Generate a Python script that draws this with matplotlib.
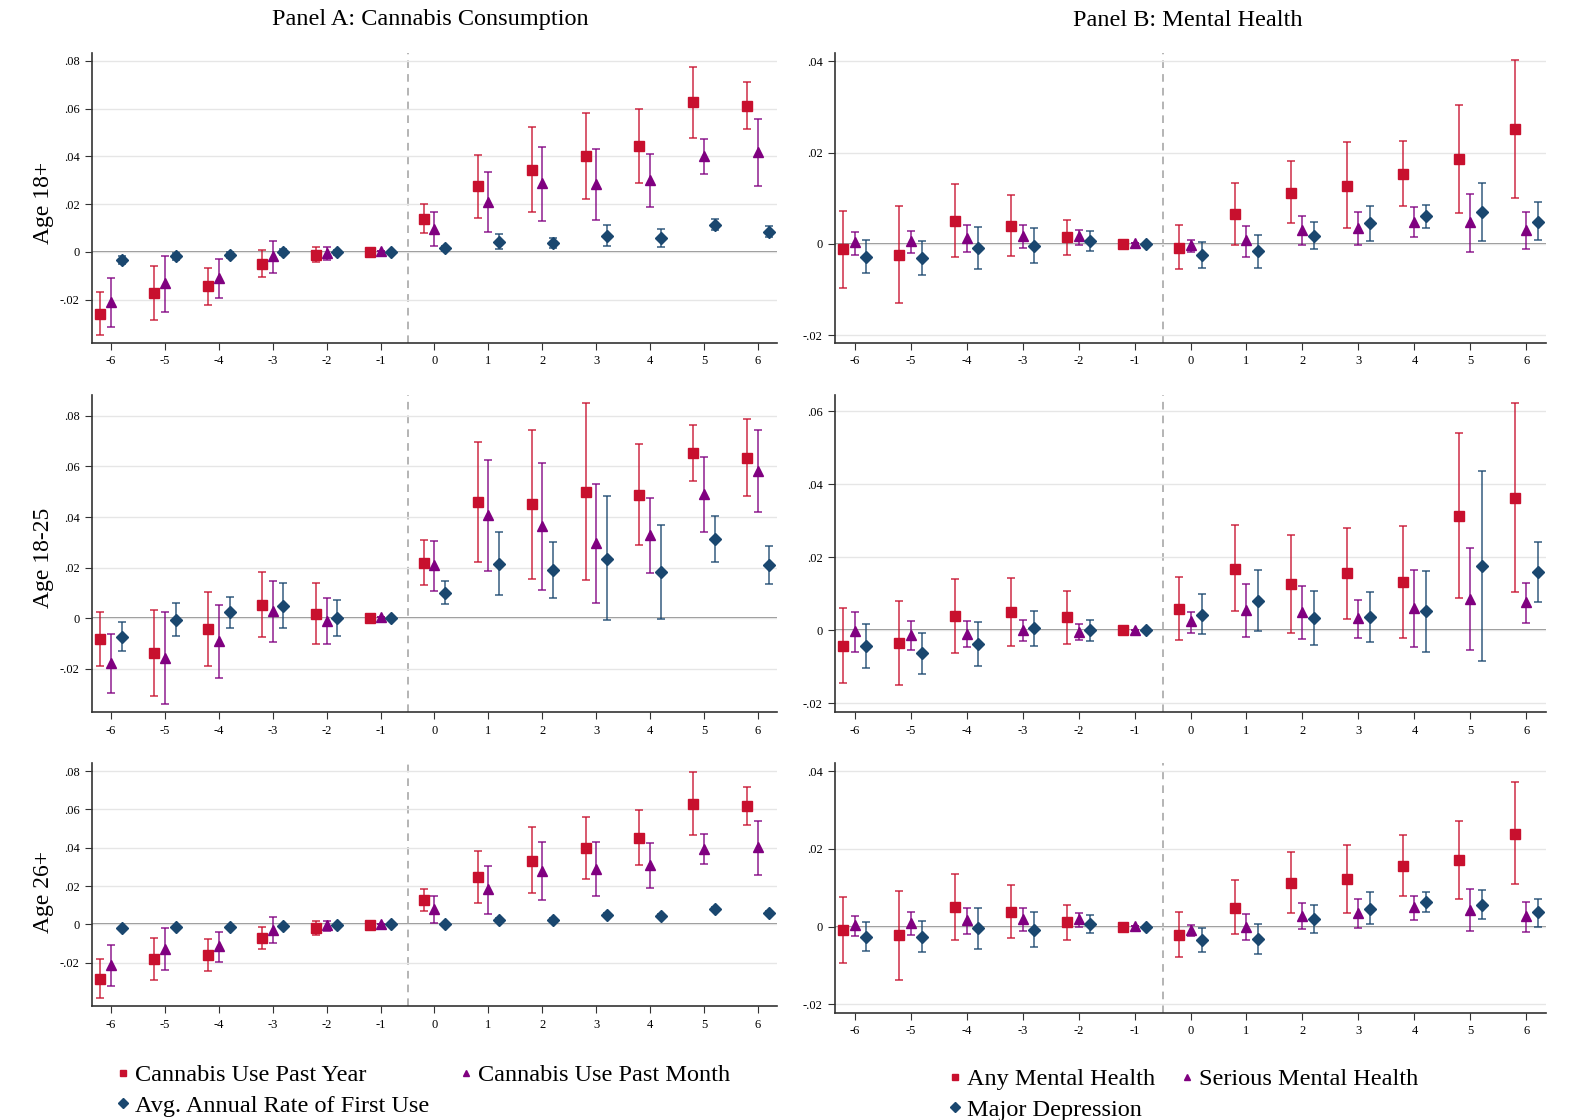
import matplotlib
matplotlib.use("Agg")
import matplotlib.pyplot as plt
from matplotlib.ticker import FuncFormatter
from matplotlib.lines import Line2D

plt.rcParams['font.family'] = ['Liberation Serif', 'DejaVu Serif']
plt.rcParams['axes.unicode_minus'] = False

events = [-6, -5, -4, -3, -2, -1, 0, 1, 2, 3, 4, 5, 6]

# Panel A, Age 18+
a18_year = [-0.0259, -0.0173, -0.0142, -0.0050, -0.0013, 0, 0.0138, 0.0276, 0.0344, 0.0401, 0.0443, 0.0627, 0.0611]
a18_year_lo = [-0.0349, -0.0284, -0.0222, -0.0106, -0.0043, 0, 0.0081, 0.0141, 0.0166, 0.0222, 0.0290, 0.0478, 0.0516]
a18_year_hi = [-0.0166, -0.0059, -0.0066, 0.0008, 0.0021, 0, 0.0199, 0.0408, 0.0523, 0.0583, 0.0597, 0.0776, 0.0710]
a18_month = [-0.0209, -0.0130, -0.0109, -0.0017, -0.0003, 0.0003, 0.0098, 0.0209, 0.0287, 0.0284, 0.0301, 0.0403, 0.0420]
a18_month_lo = [-0.0315, -0.0250, -0.0194, -0.0086, -0.0033, 0.0003, 0.0025, 0.0082, 0.0130, 0.0132, 0.0187, 0.0325, 0.0277]
a18_month_hi = [-0.0107, -0.0015, -0.0028, 0.0047, 0.0020, 0.0003, 0.0169, 0.0335, 0.0441, 0.0432, 0.0411, 0.0475, 0.0558]
a18_first = [-0.0033, -0.0018, -0.0013, 0.0000, -0.0001, 0, 0.0015, 0.0043, 0.0038, 0.0068, 0.0057, 0.0114, 0.0085]
a18_first_lo = [-0.0050, -0.0033, -0.0026, -0.0014, -0.0013, 0, 0.0006, 0.0014, 0.0017, 0.0024, 0.0020, 0.0091, 0.0063]
a18_first_hi = [-0.0017, -0.0006, 0.0001, 0.0011, 0.0010, 0, 0.0026, 0.0074, 0.0060, 0.0113, 0.0096, 0.0138, 0.0109]

# Panel A, Age 18-25
a1825_year = [-0.0083, -0.0139, -0.0045, 0.0051, 0.0016, 0, 0.0218, 0.0459, 0.0451, 0.0499, 0.0487, 0.0653, 0.0634]
a1825_year_lo = [-0.0191, -0.0310, -0.0190, -0.0074, -0.0102, 0, 0.0129, 0.0223, 0.0156, 0.0152, 0.0288, 0.0544, 0.0482]
a1825_year_hi = [0.0025, 0.0032, 0.0103, 0.0181, 0.0137, 0, 0.0308, 0.0697, 0.0746, 0.0851, 0.0689, 0.0763, 0.0788]
a1825_month = [-0.0178, -0.0157, -0.0091, 0.0028, -0.0011, 0.0003, 0.0210, 0.0407, 0.0363, 0.0297, 0.0329, 0.0490, 0.0582]
a1825_month_lo = [-0.0297, -0.0339, -0.0239, -0.0094, -0.0102, 0.0003, 0.0107, 0.0185, 0.0112, 0.0059, 0.0180, 0.0339, 0.0420]
a1825_month_hi = [-0.0065, 0.0024, 0.0053, 0.0145, 0.0081, 0.0003, 0.0306, 0.0624, 0.0612, 0.0532, 0.0477, 0.0638, 0.0746]
a1825_first = [-0.0074, -0.0007, 0.0022, 0.0049, 0.0000, 0, 0.0100, 0.0215, 0.0190, 0.0235, 0.0182, 0.0313, 0.0211]
a1825_first_lo = [-0.0131, -0.0070, -0.0041, -0.0040, -0.0070, 0, 0.0055, 0.0091, 0.0079, -0.0008, -0.0005, 0.0220, 0.0136]
a1825_first_hi = [-0.0015, 0.0061, 0.0084, 0.0140, 0.0073, 0, 0.0148, 0.0339, 0.0302, 0.0482, 0.0370, 0.0405, 0.0286]

# Panel A, Age 26+
a26_year = [-0.0286, -0.0181, -0.0160, -0.0073, -0.0019, -0.0003, 0.0127, 0.0247, 0.0333, 0.0399, 0.0449, 0.0629, 0.0618]
a26_year_lo = [-0.0385, -0.0289, -0.0244, -0.0131, -0.0057, -0.0003, 0.0068, 0.0113, 0.0162, 0.0237, 0.0308, 0.0469, 0.0521]
a26_year_hi = [-0.0181, -0.0070, -0.0078, -0.0012, 0.0019, -0.0003, 0.0183, 0.0381, 0.0507, 0.0561, 0.0599, 0.0794, 0.0716]
a26_month = [-0.0213, -0.0127, -0.0115, -0.0030, -0.0005, 0.0003, 0.0082, 0.0183, 0.0280, 0.0289, 0.0310, 0.0395, 0.0404]
a26_month_lo = [-0.0324, -0.0239, -0.0199, -0.0099, -0.0037, 0.0003, 0.0007, 0.0054, 0.0129, 0.0148, 0.0192, 0.0315, 0.0256]
a26_month_hi = [-0.0108, -0.0021, -0.0038, 0.0040, 0.0019, 0.0003, 0.0150, 0.0303, 0.0428, 0.0430, 0.0423, 0.0470, 0.0542]
a26_first = [-0.0021, -0.0016, -0.0014, -0.0007, -0.0002, 0, 0.0003, 0.0023, 0.0021, 0.0047, 0.0045, 0.0080, 0.0057]
a26_first_lo = [-0.0027, -0.0021, -0.0019, -0.0012, -0.0006, 0, -0.0001, 0.0012, 0.0011, 0.0037, 0.0036, 0.0071, 0.0047]
a26_first_hi = [-0.0015, -0.0011, -0.0009, -0.0002, 0.0002, 0, 0.0007, 0.0034, 0.0031, 0.0057, 0.0054, 0.0089, 0.0067]

# Panel B, Age 18+
b18_any = [-0.0012, -0.0024, 0.0050, 0.0040, 0.0015, 0, -0.0009, 0.0066, 0.0112, 0.0127, 0.0153, 0.0186, 0.0252]
b18_any_lo = [-0.0097, -0.0130, -0.0029, -0.0026, -0.0024, 0, -0.0056, -0.0003, 0.0045, 0.0034, 0.0082, 0.0068, 0.0101]
b18_any_hi = [0.0071, 0.0082, 0.0131, 0.0107, 0.0053, 0, 0.0041, 0.0134, 0.0182, 0.0223, 0.0226, 0.0304, 0.0402]
b18_serious = [0.0004, 0.0006, 0.0014, 0.0018, 0.0017, 0.0001, -0.0003, 0.0008, 0.0030, 0.0034, 0.0049, 0.0047, 0.0031]
b18_serious_lo = [-0.0025, -0.0020, -0.0018, -0.0010, -0.0003, 0.0001, -0.0018, -0.0028, -0.0002, -0.0002, 0.0015, -0.0018, -0.0011]
b18_serious_hi = [0.0026, 0.0029, 0.0042, 0.0042, 0.0031, 0.0001, 0.0008, 0.0040, 0.0060, 0.0069, 0.0081, 0.0110, 0.0069]
b18_dep = [-0.0028, -0.0030, -0.0009, -0.0005, 0.0006, 0, -0.0024, -0.0016, 0.0018, 0.0045, 0.0060, 0.0069, 0.0049]
b18_dep_lo = [-0.0064, -0.0068, -0.0055, -0.0042, -0.0016, 0, -0.0052, -0.0053, -0.0012, 0.0007, 0.0034, 0.0006, 0.0009]
b18_dep_hi = [0.0009, 0.0007, 0.0038, 0.0034, 0.0028, 0, 0.0005, 0.0020, 0.0049, 0.0083, 0.0086, 0.0134, 0.0091]

# Panel B, Age 18-25
b1825_any = [-0.0042, -0.0035, 0.0039, 0.0050, 0.0037, 0, 0.0058, 0.0168, 0.0127, 0.0157, 0.0132, 0.0313, 0.0362]
b1825_any_lo = [-0.0145, -0.0149, -0.0062, -0.0044, -0.0037, 0, -0.0026, 0.0052, -0.0008, 0.0032, -0.0022, 0.0088, 0.0106]
b1825_any_hi = [0.0062, 0.0079, 0.0140, 0.0144, 0.0109, 0, 0.0147, 0.0288, 0.0262, 0.0281, 0.0285, 0.0541, 0.0623]
b1825_serious = [-0.0002, -0.0013, -0.0009, 0.0002, -0.0005, 0.0001, 0.0025, 0.0055, 0.0051, 0.0033, 0.0060, 0.0087, 0.0077]
b1825_serious_lo = [-0.0060, -0.0053, -0.0045, -0.0030, -0.0027, 0.0001, -0.0008, -0.0019, -0.0024, -0.0022, -0.0046, -0.0055, 0.0021]
b1825_serious_hi = [0.0051, 0.0026, 0.0026, 0.0029, 0.0016, 0.0001, 0.0051, 0.0126, 0.0122, 0.0084, 0.0164, 0.0226, 0.0129]
b1825_dep = [-0.0044, -0.0063, -0.0038, 0.0005, 0.0001, 0, 0.0043, 0.0081, 0.0033, 0.0037, 0.0053, 0.0177, 0.0160]
b1825_dep_lo = [-0.0104, -0.0120, -0.0099, -0.0044, -0.0028, 0, -0.0011, -0.0002, -0.0041, -0.0032, -0.0059, -0.0083, 0.0077]
b1825_dep_hi = [0.0016, -0.0007, 0.0023, 0.0054, 0.0029, 0, 0.0099, 0.0165, 0.0108, 0.0106, 0.0163, 0.0437, 0.0243]

# Panel B, Age 26+
b26_any = [-0.0009, -0.0021, 0.0051, 0.0038, 0.0013, 0, -0.0021, 0.0048, 0.0113, 0.0123, 0.0157, 0.0172, 0.0239]
b26_any_lo = [-0.0094, -0.0136, -0.0034, -0.0030, -0.0033, 0, -0.0077, -0.0020, 0.0034, 0.0036, 0.0080, 0.0070, 0.0109]
b26_any_hi = [0.0077, 0.0093, 0.0136, 0.0106, 0.0057, 0, 0.0037, 0.0119, 0.0191, 0.0211, 0.0237, 0.0272, 0.0371]
b26_serious = [0.0004, 0.0009, 0.0017, 0.0021, 0.0019, 0.0001, -0.0009, 0.0000, 0.0028, 0.0036, 0.0050, 0.0043, 0.0027]
b26_serious_lo = [-0.0025, -0.0022, -0.0018, -0.0011, 0.0000, 0.0001, -0.0023, -0.0034, -0.0006, -0.0003, 0.0017, -0.0010, -0.0014]
b26_serious_hi = [0.0027, 0.0038, 0.0049, 0.0049, 0.0036, 0.0001, 0.0005, 0.0033, 0.0060, 0.0072, 0.0078, 0.0096, 0.0064]
b26_dep = [-0.0027, -0.0027, -0.0004, -0.0008, 0.0007, 0, -0.0035, -0.0031, 0.0019, 0.0046, 0.0063, 0.0055, 0.0037]
b26_dep_lo = [-0.0062, -0.0066, -0.0057, -0.0051, -0.0016, 0, -0.0066, -0.0069, -0.0017, 0.0006, 0.0037, 0.0019, 0.0000]
b26_dep_hi = [0.0011, 0.0015, 0.0049, 0.0037, 0.0029, 0, -0.0003, 0.0006, 0.0056, 0.0088, 0.0089, 0.0094, 0.0072]

labels_a = ["Cannabis Use Past Year", "Cannabis Use Past Month", "Avg. Annual Rate of First Use"]
labels_b = ["Any Mental Health", "Serious Mental Health", "Major Depression"]
row_labels = ["Age 18+", "Age 18-25", "Age 26+"]

colors = ["#c8102e", "#800080", "#1a476f"]
markers = ["s", "^", "D"]
msizes = [7.5, 7, 6]
offsets = [-0.2, 0, 0.2]

W, H = 1579, 1120
fig = plt.figure(figsize=(W / 100, H / 100), dpi=100)


def ytick_fmt(v, pos):
    if abs(v) < 1e-9:
        return "0"
    return f"{v:.2f}".replace("0.", ".")


def draw(rect, series, ylim, yticks):
    l, t, r, b = rect
    ax = fig.add_axes([l / W, 1 - b / H, (r - l) / W, (b - t) / H])
    ax.set_yticks(yticks)
    ax.grid(axis="y", color="#e6e6e6", lw=1, zorder=0)
    ax.axhline(0, color="#8c8c8c", lw=1.4, zorder=1)
    ax.axvline(-0.5, color="#a0a0a0", lw=1.1, ls=(0, (5, 4)), zorder=1)
    for (est, lo, hi), c, m, ms, off in zip(series, colors, markers, msizes, offsets):
        x = [e + off for e in events]
        yerr = [[e - v for e, v in zip(est, lo)], [v - e for e, v in zip(est, hi)]]
        ax.errorbar(x, est, yerr=yerr, fmt="none", ecolor=c, alpha=0.75,
                    elinewidth=1.3, capsize=3, capthick=1.3, zorder=2)
        ax.plot(x, est, m, color=c, ms=ms, ls="none", zorder=3)
    ax.set_xlim(-6.35, 6.35)
    ax.set_ylim(*ylim)
    ax.set_xticks(events)
    ax.yaxis.set_major_formatter(FuncFormatter(ytick_fmt))
    for s in ["top", "right"]:
        ax.spines[s].set_visible(False)
    for s in ["left", "bottom"]:
        ax.spines[s].set_color("#333333")
        ax.spines[s].set_linewidth(1.2)
    ax.tick_params(labelsize=9, length=5, color="#333333", pad=4)
    return ax


yt_a = [-0.02, 0, 0.02, 0.04, 0.06, 0.08]
yt_b = [-0.02, 0, 0.02, 0.04]
yt_b2 = [-0.02, 0, 0.02, 0.04, 0.06]

draw((92, 53, 777, 343),
     [(a18_year, a18_year_lo, a18_year_hi), (a18_month, a18_month_lo, a18_month_hi),
      (a18_first, a18_first_lo, a18_first_hi)], (-0.0381, 0.0833), yt_a)
draw((92, 395, 777, 712),
     [(a1825_year, a1825_year_lo, a1825_year_hi), (a1825_month, a1825_month_lo, a1825_month_hi),
      (a1825_first, a1825_first_lo, a1825_first_hi)], (-0.0372, 0.0883), yt_a)
draw((92, 763, 777, 1006),
     [(a26_year, a26_year_lo, a26_year_hi), (a26_month, a26_month_lo, a26_month_hi),
      (a26_first, a26_first_lo, a26_first_hi)], (-0.0427, 0.0843), yt_a)

draw((835, 53, 1546, 343),
     [(b18_any, b18_any_lo, b18_any_hi), (b18_serious, b18_serious_lo, b18_serious_hi),
      (b18_dep, b18_dep_lo, b18_dep_hi)], (-0.0217, 0.0418), yt_b)
draw((835, 395, 1546, 712),
     [(b1825_any, b1825_any_lo, b1825_any_hi), (b1825_serious, b1825_serious_lo, b1825_serious_hi),
      (b1825_dep, b1825_dep_lo, b1825_dep_hi)], (-0.0224, 0.0645), yt_b2)
draw((835, 763, 1546, 1013),
     [(b26_any, b26_any_lo, b26_any_hi), (b26_serious, b26_serious_lo, b26_serious_hi),
      (b26_dep, b26_dep_lo, b26_dep_hi)], (-0.0222, 0.0421), yt_b)

# titles and row labels
fig.text(430 / W, 1 - 20 / H, "Panel A: Cannabis Consumption", ha="center", va="center", fontsize=17.5)
fig.text(1188 / W, 1 - 20 / H, "Panel B: Mental Health", ha="center", va="center", fontsize=17.5)
for lab, yc in zip(row_labels, [203, 558, 892]):
    fig.text(43 / W, 1 - yc / H, lab, rotation=90, ha="center", va="center", fontsize=17)


def handles(labs):
    return [Line2D([], [], ls="none", marker=m, color=c, ms=5, label=lab)
            for m, c, lab in zip(markers, colors, labs)]


ha = handles(labels_a)
hb = handles(labels_b)
fig.legend([ha[0], ha[2], ha[1]], [labels_a[0], labels_a[2], labels_a[1]],
           loc="upper left", bbox_to_anchor=(106 / W, 1 - 1052 / H), ncol=2,
           frameon=False, fontsize=17.5, handlelength=0.4, handletextpad=0.3,
           columnspacing=1.3, labelspacing=0.35, borderpad=0)
fig.legend([hb[0], hb[2], hb[1]], [labels_b[0], labels_b[2], labels_b[1]],
           loc="upper left", bbox_to_anchor=(938 / W, 1 - 1056 / H), ncol=2,
           frameon=False, fontsize=17.5, handlelength=0.4, handletextpad=0.3,
           columnspacing=1.1, labelspacing=0.35, borderpad=0)

fig.savefig("out.png", dpi=100)
